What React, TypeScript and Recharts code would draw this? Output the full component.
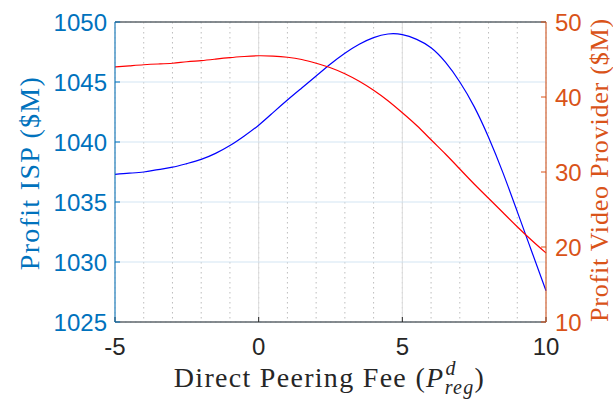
import React from "react";
import { LineChart, Line, XAxis, YAxis, CartesianGrid } from "recharts";

// direct peering fee (x) and the two profit curves
const fees = [-5, -4.5, -4, -3.5, -3, -2.5, -2, -1.5, -1, -0.5, 0, 0.5, 1, 1.5, 2, 2.5, 3, 3.5, 4, 4.5, 5, 5.5, 6, 6.5, 7, 7.5, 8, 8.5, 9, 9.5, 10];
const ispProfit = [1037.3, 1037.4, 1037.5, 1037.7, 1037.9, 1038.2, 1038.55, 1039.05, 1039.7, 1040.5, 1041.4, 1042.45, 1043.5, 1044.5, 1045.5, 1046.5, 1047.4, 1048.15, 1048.7, 1049.0, 1048.95, 1048.55, 1047.85, 1046.65, 1045.0, 1042.95, 1040.4, 1037.45, 1034.2, 1030.9, 1027.6];
const videoProfit = [44.0, 44.15, 44.3, 44.4, 44.5, 44.7, 44.85, 45.05, 45.25, 45.4, 45.5, 45.45, 45.3, 45.0, 44.5, 43.9, 43.1, 42.1, 40.9, 39.5, 37.9, 36.2, 34.3, 32.4, 30.4, 28.4, 26.5, 24.6, 22.7, 20.9, 19.2];

const xTicks = [-5, 0, 5, 10];
const leftTicks = [1025, 1030, 1035, 1040, 1045, 1050];
const rightTicks = [10, 20, 30, 40, 50];
const minorXTicks = [-5, -4, -3, -2, -1, 0, 1, 2, 3, 4, 5, 6, 7, 8, 9, 10];
const minorYTicks = [1025, 1026, 1027, 1028, 1029, 1030, 1031, 1032, 1033, 1034, 1035, 1036, 1037, 1038, 1039, 1040, 1041, 1042, 1043, 1044, 1045, 1046, 1047, 1048, 1049, 1050];

const BLUE = "#0072BD";
const ORANGE = "#D95319";
const DARK = "#262626";
const SANS = "'Liberation Sans', Arial, Helvetica, sans-serif";
const SERIF = "'Liberation Serif', 'Times New Roman', serif";

const data = fees.map((x, i) => ({ x, isp: ispProfit[i], video: videoProfit[i] }));

const labelStyle = { fontFamily: SERIF, fontSize: 28, letterSpacing: 1.3 };

function LeftLabel(props: any) {
  const vb = props.viewBox;
  const cx = vb.x + 29;
  const cy = vb.y + vb.height / 2 + 1;
  return (
    <text x={cx} y={cy} transform={`rotate(-90, ${cx}, ${cy})`} textAnchor="middle" dominantBaseline="central" fill={BLUE} style={labelStyle}>
      Profit ISP ($M)
    </text>
  );
}

function RightLabel(props: any) {
  const vb = props.viewBox;
  const cx = vb.x + 53;
  const cy = vb.y + vb.height / 2 - 2;
  return (
    <text x={cx} y={cy} transform={`rotate(-90, ${cx}, ${cy})`} textAnchor="middle" dominantBaseline="central" fill={ORANGE} style={{ ...labelStyle, fontSize: 26, letterSpacing: 0.8 }}>
      Profit Video Provider ($M)
    </text>
  );
}

function BottomLabel(props: any) {
  const vb = props.viewBox;
  const cx = vb.x + vb.width / 2 - 1;
  return (
    <text x={cx} y={387} textAnchor="middle" fill={DARK} style={labelStyle}>
      <tspan>Direct Peering Fee (</tspan>
      <tspan fontStyle="italic">P</tspan>
      <tspan fontStyle="italic" fontSize={20} dx={1} dy={-12}>d</tspan>
      <tspan fontStyle="italic" fontSize={20} dx={-12} dy={19}>reg</tspan>
      <tspan dy={-7}>)</tspan>
    </text>
  );
}

export default function App() {
  return (
    <div style={{ position: "absolute", left: 0, top: 0, background: "#fff" }}>
      <LineChart width={613} height={401} data={data} margin={{ top: 21, right: 0, bottom: 0, left: 0 }}>
        <XAxis xAxisId="minor" dataKey="x" type="number" domain={[-5, 10]} ticks={minorXTicks} hide />
        <YAxis yAxisId="minor" type="number" domain={[1025, 1050]} ticks={minorYTicks} hide />
        <CartesianGrid xAxisId="minor" yAxisId="minor" horizontal={false} stroke="#BDBDBD" strokeDasharray="1.5 3.5" />
        <CartesianGrid xAxisId="minor" yAxisId="minor" vertical={false} stroke="#A8CCEA" strokeDasharray="1.5 3.5" />
        <CartesianGrid yAxisId="left" horizontal={false} stroke="#DCDCDC" />
        <CartesianGrid yAxisId="left" vertical={false} stroke="#D3E5F3" />
        <XAxis
          dataKey="x"
          type="number"
          domain={[-5, 10]}
          ticks={xTicks}
          height={79}
          tickSize={-5}
          tickMargin={21}
          stroke={DARK}
          tick={{ fill: DARK, fontSize: 24, fontFamily: SANS }}
          label={BottomLabel}
        />
        <XAxis
          xAxisId="top"
          orientation="top"
          dataKey="x"
          type="number"
          domain={[-5, 10]}
          ticks={xTicks}
          height={1}
          tickSize={-5}
          stroke={DARK}
          tick={false}
        />
        <YAxis
          yAxisId="left"
          type="number"
          domain={[1025, 1050]}
          ticks={leftTicks}
          width={115}
          tickSize={-5}
          tickMargin={13}
          stroke={BLUE}
          tick={{ fill: BLUE, fontSize: 24, fontFamily: SANS }}
          label={LeftLabel}
        />
        <YAxis
          yAxisId="right"
          orientation="right"
          type="number"
          domain={[10, 50]}
          ticks={rightTicks}
          width={67}
          tickSize={-5}
          tickMargin={14}
          stroke={ORANGE}
          tick={{ fill: ORANGE, fontSize: 24, fontFamily: SANS }}
          label={RightLabel}
        />
        <Line yAxisId="left" dataKey="isp" type="natural" stroke="#0000FF" strokeWidth={1.2} dot={false} isAnimationActive={false} />
        <Line yAxisId="right" dataKey="video" type="natural" stroke="#FF0000" strokeWidth={1.2} dot={false} isAnimationActive={false} />
      </LineChart>
    </div>
  );
}
